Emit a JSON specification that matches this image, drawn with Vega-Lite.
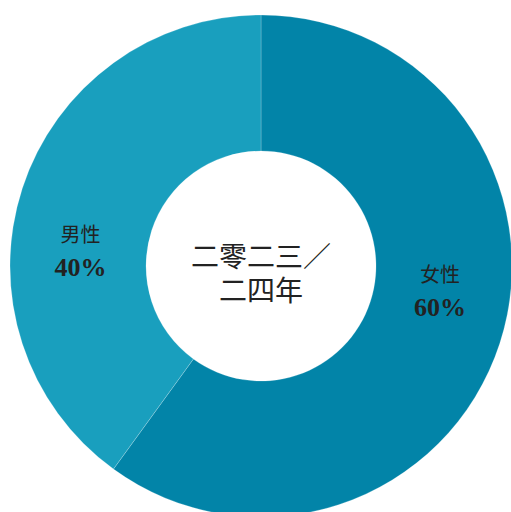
{
  "$schema": "https://vega.github.io/schema/vega-lite/v6.json",
  "width": 502,
  "height": 492,
  "padding": {"left": 10, "top": 20, "right": 0, "bottom": 0},
  "autosize": {"type": "none"},
  "background": "#ffffff",
  "config": {"view": {"stroke": null}},
  "data": {
    "values": [
      {"gender": "女性", "value": 60, "pct": "60%"},
      {"gender": "男性", "value": 40, "pct": "40%"}
    ]
  },
  "layer": [
    {
      "mark": {"type": "arc", "outerRadius": 251, "innerRadius": 115, "stroke": "#ffffff", "strokeOpacity": 0.3, "strokeWidth": 0.7},
      "encoding": {
        "theta": {"field": "value", "type": "quantitative", "stack": true},
        "order": {"field": "value", "sort": "descending"},
        "color": {
          "field": "gender",
          "type": "nominal",
          "scale": {"domain": ["女性", "男性"], "range": ["#0284a8", "#199fbe"]},
          "legend": null
        }
      }
    },
    {
      "mark": {"type": "text", "radius": 181, "dy": -16, "font": "Noto Sans CJK TC", "fontSize": 20, "color": "#222222", "baseline": "middle", "align": "center"},
      "encoding": {
        "theta": {"field": "value", "type": "quantitative", "stack": true, "scale": {"range": [-0.1257, 6.018]}},
        "order": {"field": "value", "sort": "descending"},
        "text": {"field": "gender"}
      }
    },
    {
      "mark": {"type": "text", "radius": 181, "dy": 16, "font": "Liberation Serif", "fontWeight": "bold", "fontSize": 26, "color": "#222222", "baseline": "middle", "align": "center"},
      "encoding": {
        "theta": {"field": "value", "type": "quantitative", "stack": true, "scale": {"range": [-0.1257, 6.018]}},
        "order": {"field": "value", "sort": "descending"},
        "text": {"field": "pct"}
      }
    },
    {
      "data": {"values": [{"label": "二零二三／"}]},
      "mark": {"type": "text", "dy": -7, "font": "Noto Sans CJK TC", "fontSize": 28, "color": "#222222", "baseline": "middle", "align": "center"},
      "encoding": {
        "text": {"field": "label"}
      }
    },
    {
      "data": {"values": [{"label": "二四年"}]},
      "mark": {"type": "text", "dy": 27, "font": "Noto Sans CJK TC", "fontSize": 28, "color": "#222222", "baseline": "middle", "align": "center"},
      "encoding": {
        "text": {"field": "label"}
      }
    }
  ],
  "resolve": {"scale": {"theta": "independent"}}
}
